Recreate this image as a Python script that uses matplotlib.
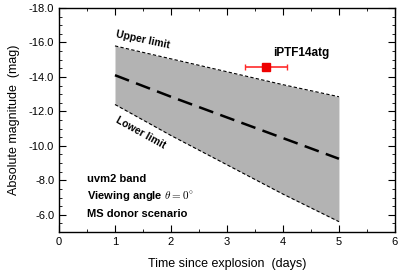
import matplotlib
matplotlib.use("Agg")
import matplotlib.pyplot as plt
import numpy as np
from matplotlib.ticker import MultipleLocator, FormatStrFormatter

matplotlib.rcParams['font.family'] = 'Liberation Sans'
matplotlib.rcParams['font.size'] = 8
matplotlib.rcParams['mathtext.fontset'] = 'cm'

# model light curve band (uvm2), days since explosion
t = [1, 2, 3, 4, 5]
upper = [-15.8, -15.05, -14.3, -13.55, -12.85]
mean = [-14.1, -12.85, -11.65, -10.45, -9.25]
lower = [-12.4, -10.6, -8.9, -7.2, -5.6]

# observed point
obs_t = [3.7]
obs_mag = [-14.6]
obs_terr = [0.37]

fig = plt.figure(figsize=(4.08, 2.74), dpi=100)
ax = fig.add_axes([0.1446, 0.1533, 0.8234, 0.8175])

ax.fill_between(t, upper, lower, color='#b3b3b3', linewidth=0)
ax.plot(t, upper, color='black', ls=(0, (3, 2)), lw=0.8)
ax.plot(t, lower, color='black', ls=(0, (3, 2)), lw=0.8)
ax.plot(t, mean, color='black', ls=(0, (6, 3)), lw=1.8)

ax.errorbar(obs_t, obs_mag, xerr=obs_terr, fmt='s', color='#ff2a2a', ms=6,
            lw=1.2, capsize=2, capthick=1.0, mfc='#ee0000', mec='#ee0000')
ax.text(3.82, -15.2, 'iPTF14atg', fontweight='bold', fontsize=8.5)

ax.text(1.5, -16.15, 'Upper limit', fontweight='bold', fontsize=7.5,
        rotation=-12, ha='center', va='center')
ax.text(1.46, -10.75, 'Lower limit', fontweight='bold', fontsize=7.5,
        rotation=-29, ha='center', va='center')

ax.text(0.5, -8.1, 'uvm2 band', fontweight='bold', va='center')
ax.text(0.5, -7.1, r'Viewing angle $\theta = 0^{\circ}$', fontweight='bold', va='center')
ax.text(0.5, -6.05, 'MS donor scenario', fontweight='bold', va='center')

ax.set_xlim(0, 6)
ax.set_ylim(-5, -18)
ax.xaxis.set_major_locator(MultipleLocator(1))
ax.xaxis.set_minor_locator(MultipleLocator(0.5))
ax.yaxis.set_major_locator(MultipleLocator(2))
ax.yaxis.set_minor_locator(MultipleLocator(0.5))
ax.yaxis.set_major_formatter(FormatStrFormatter('%.1f'))
ax.tick_params(which='both', direction='in', top=True, right=True, labelsize=8)
ax.tick_params(which='major', length=5, width=0.8)
ax.tick_params(which='minor', length=2.5, width=0.6)
for s in ax.spines.values():
    s.set_linewidth(1.0)

ax.set_xlabel('Time since explosion  (days)', fontsize=9, labelpad=8)
ax.set_ylabel('Absolute magnitude  (mag)', fontsize=9, labelpad=6)

fig.savefig('out.png', dpi=100)
